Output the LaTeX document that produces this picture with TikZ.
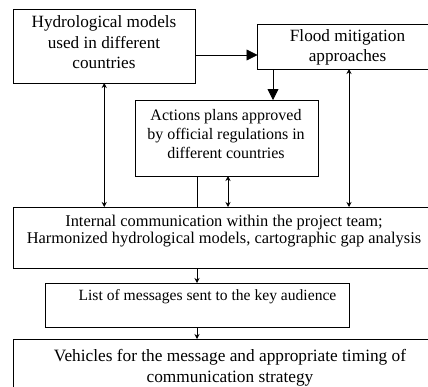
\documentclass[tikz,border=0pt]{standalone}
\usepackage{fontspec}
\setmainfont{Liberation Serif}
\usetikzlibrary{arrows.meta,calc}
\begin{document}
\begin{tikzpicture}[x=1pt,y=-1pt,
  box/.style={draw,line width=0.9pt,rectangle,inner sep=0pt,outer sep=0pt,anchor=north west},
  txt/.style={align=center,inner sep=0pt},
  small/.style={line width=0.8pt,-{Stealth[length=5pt,width=5pt]}},
  dbl/.style={line width=0.8pt,{Stealth[length=5pt,width=5pt]}-{Stealth[length=5pt,width=5pt]}},
  big/.style={line width=0.8pt,-{Triangle[length=11pt,width=11pt]}}]
\useasboundingbox (0,0) rectangle (428,386);
\clip (0,0) rectangle (428,386);
\node[box,minimum width=182.5pt,minimum height=74pt] (b1) at (13,9) {};
\node[box,minimum width=181pt,minimum height=45pt] (b2) at (257.5,24) {};
\node[box,minimum width=183pt,minimum height=76pt] (b3) at (135,100) {};
\node[box,minimum width=427pt,minimum height=61pt] (b4) at (13,207) {};
\node[box,minimum width=304pt,minimum height=44pt] (b5) at (45,283) {};
\node[box,minimum width=427pt,minimum height=61pt] (b6) at (13,339) {};
\node[txt,font=\fontsize{17.2}{20.5}\selectfont] (t1) at (104,42.5) {Hydrological models\\used in different\\countries};
\node[txt,font=\fontsize{17.2}{20}\selectfont] (t2) at (347.5,47) {Flood mitigation\\approaches};
\node[txt,font=\fontsize{16}{19}\selectfont] (t3) at (226,134) {Actions plans approved\\by official regulations in\\different countries};
\node[txt,font=\fontsize{16.4}{17}\selectfont] (t4) at (224,231.5) {Internal communication within the project team;\\Harmonized hydrological models, cartographic gap analysis};
\node[txt,font=\fontsize{15.6}{19}\selectfont] (t5) at (207.5,297) {List of messages sent to the key audience};
\node[txt,font=\fontsize{17.3}{21}\selectfont] (t6) at (230,367.5) {Vehicles for the message and appropriate timing of\\communication strategy};
\coordinate (p) at (0,55);
\coordinate (q) at (273,0);
\coordinate (r) at (349,0);
\coordinate (s) at (228,0);
\draw[big] (b1.east |- p) -- (b2.west |- p);
\draw[big] (b2.south -| q) -- (b3.north -| q);
\draw[dbl] (b1.south) -- (b4.north -| b1.south);
\draw[dbl] (b2.south -| r) -- (b4.north -| r);
\draw[line width=0.8pt] (b3.south -| b5.north) -- (b4.north -| b5.north);
\draw[dbl] (b3.south -| s) -- (b4.north -| s);
\draw[small] (b4.south -| b5.north) -- (b5.north);
\draw[small] (b5.south) -- (b6.north -| b5.south);
\end{tikzpicture}
\end{document}
